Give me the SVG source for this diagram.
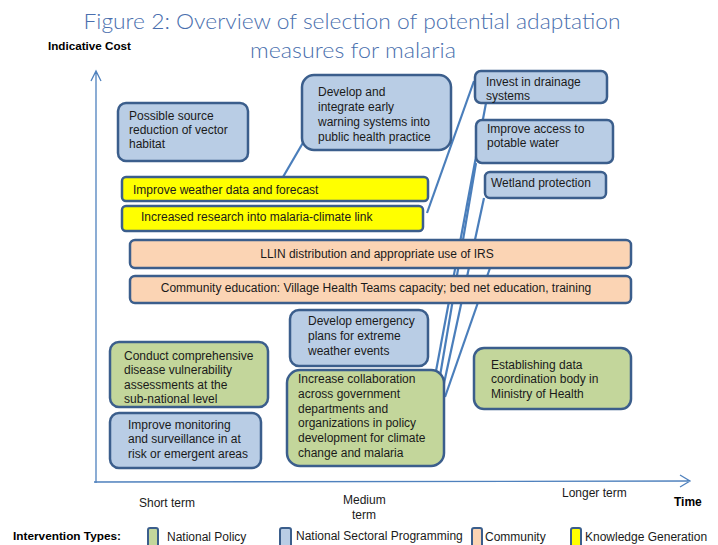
<svg xmlns="http://www.w3.org/2000/svg" width="718" height="545" viewBox="0 0 718 545">
<defs>
<style>
.title{font-family:Lato,"Liberation Sans",sans-serif;font-size:21px;font-weight:300;fill:#4a6fae}
.t{font-family:"Liberation Sans",Arial,sans-serif;font-size:12px;fill:#1a1a1a}
.b{font-family:"Liberation Sans",Arial,sans-serif;font-size:11.5px;font-weight:bold;fill:#000}
.box{stroke:#3b5e8c;stroke-width:2.5}
.blue{fill:#b9cde5}
.green{fill:#c3d69b}
.peach{fill:#fbd4b4}
.yellow{fill:#ffff00}
.axis{stroke:#4f81bd;stroke-width:1.3;fill:none}
.conn{stroke:#4a7ebb;stroke-width:2.2;fill:none}
</style>
</defs>
<rect width="718" height="545" fill="#ffffff"/>

<text class="title" x="352" y="29" text-anchor="middle" textLength="537" lengthAdjust="spacingAndGlyphs">Figure 2: Overview of selection of potential adaptation</text>
<text class="title" x="353" y="58" text-anchor="middle" textLength="206" lengthAdjust="spacingAndGlyphs">measures for malaria</text>
<text class="b" x="48" y="50" textLength="83" lengthAdjust="spacingAndGlyphs">Indicative Cost</text>

<g id="axes">
<path class="axis" d="M96,483 L96,71 M91,81 L96,71 L101,81"/>
<path class="axis" d="M94,482 L690,481 M680,475 L690,481 L680,487"/>
</g>

<g id="connectors">
<line class="conn" x1="283" y1="177" x2="304" y2="141"/>
<line class="conn" x1="427" y1="213" x2="474" y2="81"/>
<line class="conn" x1="436" y1="371" x2="486" y2="103"/>
<line class="conn" x1="440" y1="376" x2="476" y2="163"/>
<line class="conn" x1="443" y1="388" x2="484" y2="198"/>
<line class="conn" x1="445" y1="397" x2="490" y2="268"/>
</g>

<g id="n-source">
<rect class="box blue" x="118" y="103" width="130" height="58" rx="8"/>
<text class="t" x="129" y="120">Possible source</text>
<text class="t" x="129" y="134">reduction of vector</text>
<text class="t" x="129" y="148">habitat</text>
</g>
<g id="n-early-warning">
<rect class="box blue" x="302" y="75" width="149" height="75" rx="12"/>
<text class="t" x="318" y="96">Develop and</text>
<text class="t" x="318" y="111">integrate early</text>
<text class="t" x="318" y="126">warning systems  into</text>
<text class="t" x="318" y="141">public health practice</text>
</g>
<g id="n-drainage">
<rect class="box blue" x="475" y="71" width="132" height="32" rx="6"/>
<text class="t" x="486" y="86">Invest in drainage</text>
<text class="t" x="486" y="100">systems</text>
</g>
<g id="n-water">
<rect class="box blue" x="476" y="120" width="137" height="43" rx="6"/>
<text class="t" x="487" y="133">Improve access to</text>
<text class="t" x="487" y="147">potable water</text>
</g>
<g id="n-wetland">
<rect class="box blue" x="485" y="172" width="121" height="26" rx="5"/>
<text class="t" x="491" y="187">Wetland protection</text>
</g>
<g id="n-weather">
<rect class="box yellow" x="122" y="177" width="306" height="24" rx="4"/>
<text class="t" x="133" y="194">Improve weather data and forecast</text>
</g>
<g id="n-research">
<rect class="box yellow" x="122" y="206" width="301" height="25" rx="4"/>
<text class="t" x="141" y="221">Increased research into malaria-climate link</text>
</g>
<g id="n-llin">
<rect class="box peach" x="130" y="240" width="501" height="28" rx="5"/>
<text class="t" x="377" y="258" text-anchor="middle">LLIN distribution and appropriate use of IRS</text>
</g>
<g id="n-community">
<rect class="box peach" x="130" y="276" width="501" height="27" rx="5"/>
<text class="t" x="376" y="292" text-anchor="middle">Community education: Village Health Teams capacity; bed net education, training</text>
</g>
<g id="n-emergency">
<rect class="box blue" x="290" y="310" width="138" height="56" rx="9"/>
<text class="t" x="308" y="325">Develop emergency</text>
<text class="t" x="308" y="340">plans for extreme</text>
<text class="t" x="308" y="355">weather events</text>
</g>
<g id="n-assess">
<rect class="box green" x="110" y="342" width="158" height="65" rx="9"/>
<text class="t" x="124" y="360">Conduct comprehensive</text>
<text class="t" x="124" y="374">disease vulnerability</text>
<text class="t" x="124" y="389">assessments at the</text>
<text class="t" x="124" y="403">sub-national  level</text>
</g>
<g id="n-monitoring">
<rect class="box blue" x="110" y="413" width="151" height="55" rx="9"/>
<text class="t" x="128" y="429">Improve monitoring</text>
<text class="t" x="128" y="443">and surveillance in at</text>
<text class="t" x="128" y="458">risk or emergent areas</text>
</g>
<g id="n-collab">
<rect class="box green" x="287" y="370" width="157" height="96" rx="13"/>
<text class="t" x="298" y="383">Increase collaboration</text>
<text class="t" x="298" y="398">across government</text>
<text class="t" x="298" y="413">departments and</text>
<text class="t" x="298" y="427">organizations in policy</text>
<text class="t" x="298" y="442">development for climate</text>
<text class="t" x="298" y="457">change and malaria</text>
</g>
<g id="n-data">
<rect class="box green" x="474" y="348" width="157" height="61" rx="10"/>
<text class="t" x="491" y="369">Establishing data</text>
<text class="t" x="491" y="383">coordination body in</text>
<text class="t" x="491" y="398">Ministry of Health</text>
</g>

<g id="axis-labels">
<text class="t" x="139" y="507">Short term</text>
<text class="t" x="343" y="504">Medium</text>
<text class="t" x="352" y="519">term</text>
<text class="t" x="562" y="497">Longer term</text>
<text class="b" x="674" y="506" style="font-size:12px">Time</text>
</g>

<g id="legend">
<text class="b" x="13" y="540" textLength="108" lengthAdjust="spacingAndGlyphs">Intervention Types:</text>
<rect class="box green" x="148" y="528" width="10" height="20" rx="2" style="stroke-width:2"/>
<text class="t" x="167" y="541">National Policy</text>
<rect class="box blue" x="280" y="528" width="11" height="20" rx="2" style="stroke-width:2"/>
<text class="t" x="296" y="540">National Sectoral Programming</text>
<rect class="box peach" x="472" y="528" width="10" height="20" rx="2" style="stroke-width:2"/>
<text class="t" x="485" y="541">Community</text>
<rect class="box yellow" x="571" y="528" width="10" height="20" rx="2" style="stroke-width:2"/>
<text class="t" x="585" y="541">Knowledge Generation</text>
</g>
</svg>
